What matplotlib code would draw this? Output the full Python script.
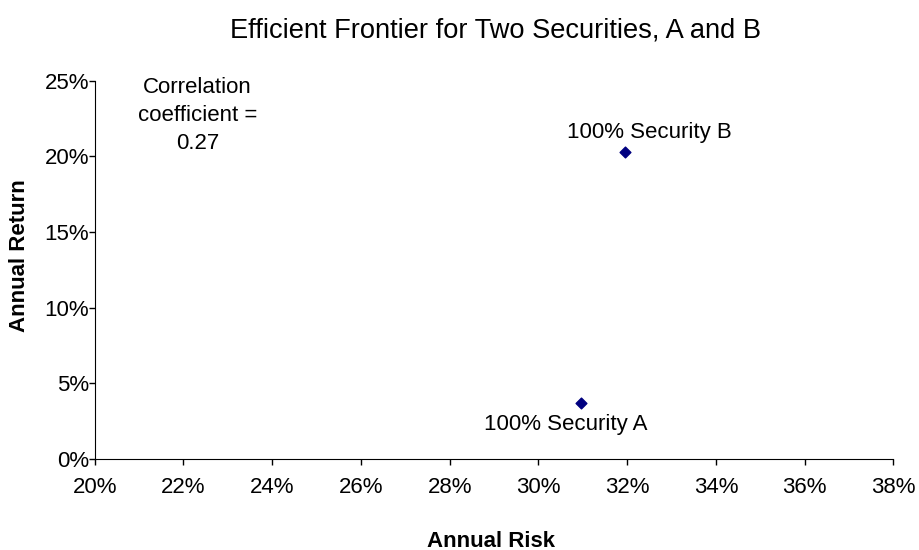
import matplotlib.pyplot as plt
from matplotlib.ticker import PercentFormatter

plt.rcParams['font.family'] = ['Liberation Sans', 'DejaVu Sans']

risk = [30.95, 31.95]
ret = [3.7, 20.25]
names = ['100% Security A', '100% Security B']
correlation = 0.27

fig = plt.figure(figsize=(9.2, 5.5), dpi=100)
ax = fig.add_axes([0.103, 0.1655, 0.868, 0.688])

ax.scatter(risk, ret, marker='D', s=30, color='#000080', zorder=3)

# labels below A, above B
ax.text(30.62, 2.25, names[0], ha='center', va='center', fontsize=16)
ax.text(32.5, 21.6, names[1], ha='center', va='center', fontsize=16)

ax.text(22.32, 22.7, 'Correlation\ncoefficient =\n%.2f' % correlation,
        ha='center', va='center', fontsize=16, linespacing=1.42)

ax.set_xlim(20, 38)
ax.set_ylim(0, 25)
ax.set_xticks(range(20, 39, 2))
ax.set_yticks(range(0, 26, 5))
ax.xaxis.set_major_formatter(PercentFormatter(decimals=0))
ax.yaxis.set_major_formatter(PercentFormatter(decimals=0))
ax.tick_params(labelsize=16, length=4, direction='out', width=1)
ax.tick_params(axis='x', pad=9)
ax.tick_params(axis='y', pad=0)

ax.spines['top'].set_visible(False)
ax.spines['right'].set_visible(False)

ax.set_xlabel('Annual Risk', fontsize=16, fontweight='bold')
ax.set_ylabel('Annual Return', fontsize=16, fontweight='bold')
ax.xaxis.set_label_coords(0.496, -0.217)
ax.yaxis.set_label_coords(-0.094, 0.537)
ax.xaxis.label.set_va('center')
ax.yaxis.label.set_va('center')
fig.suptitle('Efficient Frontier for Two Securities, A and B', fontsize=19.6,
             x=0.539, y=0.945, va='center')

fig.savefig('out.png', dpi=100)
